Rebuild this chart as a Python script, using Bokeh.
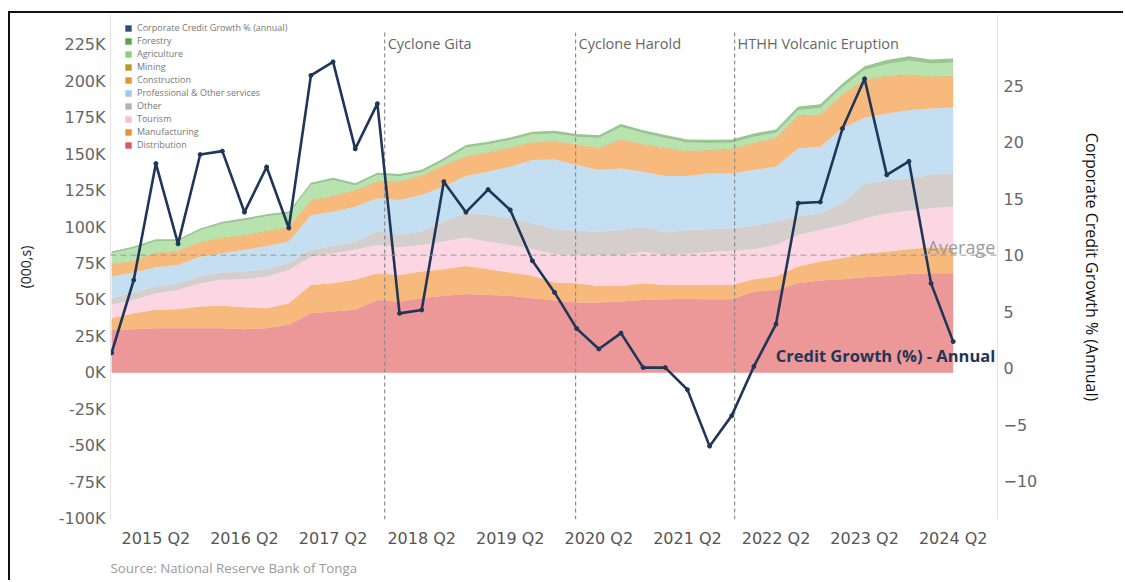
from bokeh.plotting import figure
from bokeh.models import (ColumnDataSource, Range1d, LinearAxis, FixedTicker,
                          PrintfTickFormatter, Legend, LegendItem, Label, Span, Title)
from bokeh.embed import file_html
from bokeh.resources import INLINE

# Quarterly periods, 2014 Q4 .. 2024 Q2
quarters = [f"{y} Q{q}" for y in range(2014, 2025) for q in range(1, 5)][3:42]

# Annual corporate credit growth (%)
credit_growth = [1.35, 7.8, 18.1, 11.0, 18.9, 19.2, 13.8, 17.8, 12.4, 25.9,
                 27.1, 19.4, 23.4, 4.85, 5.15, 16.5, 13.8, 15.8, 14.0, 9.5,
                 6.7, 3.5, 1.7, 3.1, 0.05, 0.05, -1.9, -6.9, -4.2, 0.15,
                 3.9, 14.6, 14.7, 21.2, 25.6, 17.1, 18.3, 7.5, 2.35]
avg_growth = 10.0

# Corporate credit by sector, TOP (000,s) expressed in thousands (K)
distribution = [29.4, 29.9, 30.6, 30.6, 30.6, 30.6, 29.9, 30.6, 32.9, 40.8,
                42.0, 43.2, 50.0, 48.8, 51.2, 52.8, 54.1, 53.4, 52.8, 51.2,
                49.6, 48.2, 48.2, 48.9, 50.0, 50.5, 50.7, 50.5, 50.5, 55.7,
                56.9, 61.4, 63.3, 64.2, 65.5, 66.5, 67.8, 68.3, 68.3]
manufacturing = [8.1, 10.9, 12.6, 13.0, 14.9, 15.4, 15.1, 13.7, 14.9, 19.5,
                 19.4, 20.6, 18.3, 18.3, 18.3, 18.3, 19.2, 17.6, 16.0, 15.4,
                 12.3, 13.2, 11.4, 10.7, 11.4, 9.8, 9.6, 9.8, 9.8, 8.5,
                 9.2, 11.5, 13.0, 14.5, 16.4, 16.6, 16.9, 17.8, 17.1]
tourism = [9.2, 9.2, 11.4, 13.3, 15.9, 17.8, 19.2, 21.7, 22.8, 19.4,
           20.6, 20.6, 19.4, 18.8, 18.2, 19.0, 19.5, 19.0, 18.9, 18.2,
           19.7, 19.5, 21.3, 21.3, 21.7, 20.6, 21.3, 22.6, 23.5, 20.6,
           21.6, 21.6, 21.7, 22.8, 24.0, 26.3, 26.6, 26.8, 28.5]
other = [4.5, 5.1, 4.5, 4.5, 5.1, 5.0, 5.3, 5.0, 5.0, 4.6,
         5.0, 5.7, 9.2, 8.7, 9.2, 13.7, 16.6, 18.2, 18.3, 17.8,
         16.9, 16.6, 15.9, 17.1, 17.1, 15.3, 16.4, 15.6, 15.4, 16.0,
         16.0, 13.0, 11.4, 14.9, 24.0, 22.8, 22.1, 22.8, 23.3]
professional = [14.9, 13.7, 13.3, 12.6, 13.2, 13.2, 14.9, 15.9, 14.5, 23.9,
                23.6, 23.9, 22.8, 23.9, 25.2, 24.0, 25.6, 29.7, 35.4, 43.4,
                47.9, 45.1, 42.3, 42.2, 37.7, 38.9, 37.0, 38.2, 37.6, 38.4,
                37.7, 46.4, 45.7, 51.4, 45.2, 45.7, 46.8, 45.7, 44.8]
construction = [8.0, 7.5, 9.5, 9.2, 9.6, 10.3, 9.5, 9.8, 9.7, 9.8,
                10.2, 11.0, 11.4, 12.3, 13.0, 14.2, 13.3, 13.0, 12.6, 11.9,
                12.1, 13.7, 14.9, 19.5, 18.3, 19.0, 16.6, 15.6, 16.5, 18.2,
                19.4, 22.1, 21.7, 22.8, 25.6, 25.2, 23.9, 21.3, 21.1]
mining = [0.7, 0.7, 0.7, 0.6, 0.6, 0.7, 0.7, 0.7, 0.6, 0.7,
          0.7, 0.6, 0.6, 0.6, 0.5, 0.6, 0.6, 0.6, 0.6, 0.6,
          0.6, 0.6, 0.7, 0.7, 0.7, 0.7, 0.7, 0.7, 0.6, 0.6,
          0.6, 0.7, 0.7, 0.7, 0.8, 0.8, 0.8, 0.8, 0.8]
agriculture = [7.3, 8.5, 7.7, 6.6, 7.9, 9.3, 10.0, 10.0, 8.9, 10.2,
               10.8, 2.9, 4.1, 3.5, 2.1, 3.0, 5.7, 5.3, 5.2, 5.2,
               5.2, 5.1, 6.5, 8.3, 7.6, 6.4, 5.7, 4.7, 4.0, 4.0,
               3.3, 3.7, 4.3, 4.8, 6.3, 8.0, 9.5, 8.8, 9.0]
forestry = [1.2, 1.2, 1.3, 1.3, 1.3, 1.4, 1.4, 1.4, 1.4, 1.5,
            1.5, 1.5, 1.5, 1.6, 1.6, 1.6, 1.7, 1.7, 1.7, 1.8,
            1.8, 1.8, 1.9, 2.0, 2.0, 2.0, 2.1, 2.2, 2.2, 2.3,
            2.3, 2.4, 2.5, 2.5, 2.6, 2.7, 2.8, 2.8, 2.8]

sectors = ["Distribution", "Manufacturing", "Tourism", "Other",
           "Professional & Other services", "Construction", "Mining",
           "Agriculture", "Forestry"]
sector_values = [distribution, manufacturing, tourism, other, professional,
                 construction, mining, agriculture, forestry]
sector_colors = ["#E15759", "#F28E2B", "#FABFD2", "#BAB0AC", "#A0CBE8",
                 "#F28E2B", "#B6992D", "#8CD17D", "#59A14F"]
growth_label = "Corporate Credit Growth % (annual)"
growth_color = "#1f3658"
growth_swatch = "#2e4f7f"

events = ["Cyclone Gita", "Cyclone Harold", "HTHH Volcanic Eruption"]
event_pos = [12.33, 20.95, 28.13]  # fractional quarter index

x = list(range(len(quarters)))
data = {"x": x, "growth": credit_growth}
keys = []
for i, vals in enumerate(sector_values):
    key = f"s{i}"
    keys.append(key)
    data[key] = vals
source = ColumnDataSource(data)

# left axis in K, right axis in %
y_lo, y_hi = -100.7, 245.9
g_lo, g_hi = -13.39, 31.29

FONT = "Open Sans"
TICK_FONT = "DejaVu Sans"
p = figure(width=1115, height=569, output_backend="svg", toolbar_location=None,
           x_range=Range1d(-0.05, 40.0), y_range=Range1d(y_lo, y_hi),
           min_border_left=100, min_border_right=128, min_border_top=1,
           min_border_bottom=62, outline_line_color=None,
           background_fill_color="white", border_fill_color="white")
p.styles = {"margin-left": "8px", "margin-top": "11px",
            "border-left": "2px solid #111", "border-top": "2px solid #111"}
p.extra_y_ranges = {"right": Range1d(g_lo, g_hi)}
p.grid.visible = False

# stacked sector areas
p.varea_stack(keys, x="x", source=source, color=sector_colors, fill_alpha=0.62)

# average growth reference
p.add_layout(Span(location=avg_growth, dimension="width", y_range_name="right",
                  line_color="#9a9a9a", line_dash="6 4", line_width=1))

# event markers
p.segment(x0=event_pos, x1=event_pos, y0=[233.6] * len(events),
          y1=[y_lo] * len(events), line_color="#8c8c8c", line_dash="4 3",
          line_width=1.2)
for name, pos in zip(events, event_pos):
    p.add_layout(Label(x=pos, y=226.0, text=name, x_offset=3,
                       text_baseline="middle", text_font=FONT,
                       text_font_size="14.5px", text_color="#666666"))

# credit growth line
p.line("x", "growth", source=source, y_range_name="right",
       line_color=growth_color, line_width=2.6)
p.scatter("x", "growth", source=source, y_range_name="right", size=4,
          color=growth_color)

p.add_layout(Label(x=39.9, y=avg_growth, y_range_name="right", text="Average",
                   text_align="right", text_baseline="bottom", y_offset=-4,
                   text_font=FONT, text_font_size="18px", text_color="#9a9a9a"))
p.add_layout(Label(x=39.9, y=1.09, y_range_name="right",
                   text="Credit Growth (%) - Annual", text_align="right",
                   text_baseline="middle", text_font=FONT,
                   text_font_size="16.5px", text_font_style="bold",
                   text_color="#1f3658"))

# axes
yax = p.yaxis[0]
yax.ticker = FixedTicker(ticks=list(range(-100, 226, 25)))
yax.formatter = PrintfTickFormatter(format="%dK")
yax.axis_label = "(000,s)"
yax.axis_label_standoff = 21
yax.axis_label_text_font_size = "14px"

right_ax = LinearAxis(y_range_name="right",
                      ticker=FixedTicker(ticks=list(range(-10, 26, 5))),
                      axis_label="Corporate Credit Growth % (Annual)")
right_ax.axis_label_standoff = 41
right_ax.axis_label_text_font_size = "16px"
p.add_layout(right_ax, "right")

for ax in (yax, right_ax):
    ax.axis_line_color = "#e3e3e3"
    ax.major_tick_line_color = None
    ax.minor_tick_line_color = None
    ax.major_tick_out = 0
    ax.major_tick_in = 0
    ax.minor_tick_out = 0
    ax.major_label_text_font = TICK_FONT
    ax.major_label_text_font_size = "16px"
    ax.major_label_text_color = "#666666"
    ax.axis_label_text_font = FONT
    ax.axis_label_text_font_style = "normal"
    ax.axis_label_text_color = "#111111"
yax.major_label_standoff = 5
right_ax.major_label_standoff = 6

xax = p.xaxis[0]
tick_pos = [i for i, q in enumerate(quarters) if q.endswith("Q2")]
xax.ticker = FixedTicker(ticks=tick_pos)
xax.major_label_overrides = {i: quarters[i] for i in tick_pos}
xax.axis_line_color = None
xax.major_tick_line_color = None
xax.minor_tick_line_color = None
xax.major_tick_out = 0
xax.major_tick_in = 0
xax.minor_tick_out = 0
xax.major_label_text_font = TICK_FONT
xax.major_label_text_font_size = "16px"
xax.major_label_text_color = "#555555"
xax.major_label_standoff = 9

p.add_layout(Title(text="Source: National Reserve Bank of Tonga", align="left",
                   text_font=FONT, text_font_size="13.3px", standoff=12,
                   text_font_style="normal", text_color="#9a9a9a"), "below")

# legend swatches: glyphs placed outside the visible range
growth_dummy = p.rect(x=[-50], y=[0], width=1, height=1, fill_color=growth_swatch,
                      line_color=None)
items = [LegendItem(label=growth_label, renderers=[growth_dummy])]
for name, color in reversed(list(zip(sectors, sector_colors))):
    r = p.rect(x=[-50], y=[0], width=1, height=1, fill_color=color,
               line_color=None)
    items.append(LegendItem(label=name, renderers=[r]))
legend = Legend(items=items, location=(14, 368), padding=0, margin=0,
                glyph_width=8, glyph_height=8, label_height=13, spacing=0,
                label_standoff=5, label_text_font=FONT,
                label_text_font_size="9px", label_text_color="#777777",
                background_fill_alpha=0, border_line_alpha=0)
p.add_layout(legend)

open("out.html", "w").write(file_html(p, INLINE))
